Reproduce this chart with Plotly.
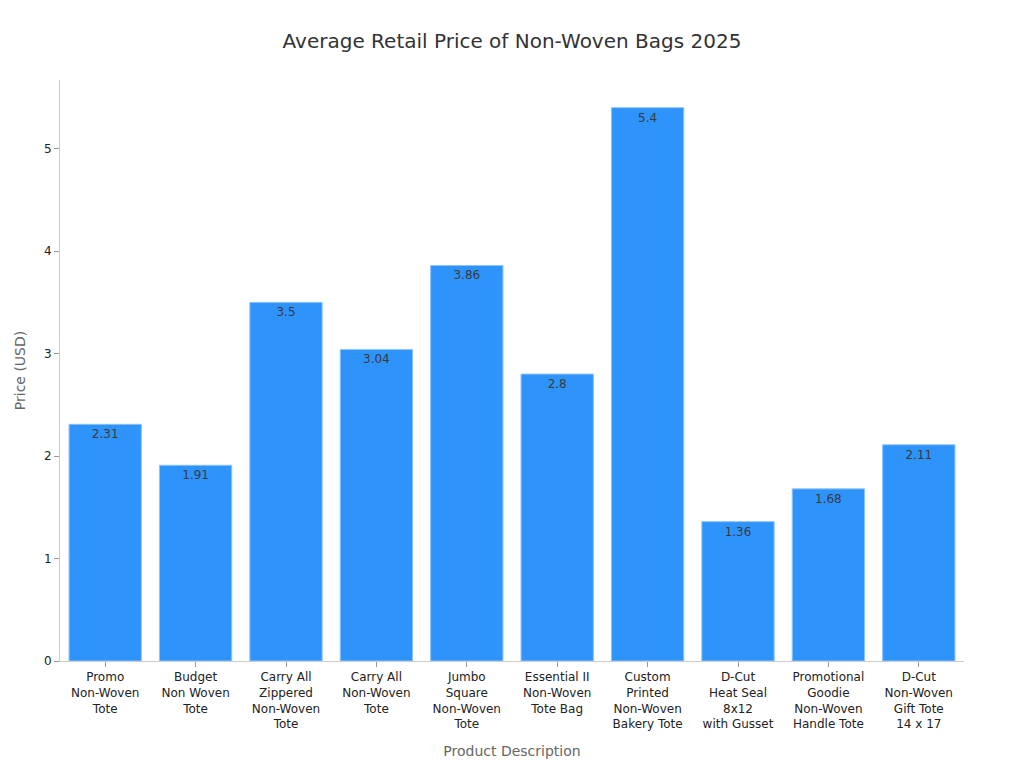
import plotly.graph_objects as go

categories = [
    "Promo<br>Non-Woven<br>Tote",
    "Budget<br>Non Woven<br>Tote",
    "Carry All<br>Zippered<br>Non-Woven<br>Tote",
    "Carry All<br>Non-Woven<br>Tote",
    "Jumbo<br>Square<br>Non-Woven<br>Tote",
    "Essential II<br>Non-Woven<br>Tote Bag",
    "Custom<br>Printed<br>Non-Woven<br>Bakery Tote",
    "D-Cut<br>Heat Seal<br>8x12<br>with Gusset",
    "Promotional<br>Goodie<br>Non-Woven<br>Handle Tote",
    "D-Cut<br>Non-Woven<br>Gift Tote<br>14 x 17",
]
prices = [2.31, 1.91, 3.5, 3.04, 3.86, 2.8, 5.4, 1.36, 1.68, 2.11]
labels = ["2.31", "1.91", "3.5", "3.04", "3.86", "2.8", "5.4", "1.36", "1.68", "2.11"]

fig = go.Figure(go.Bar(
    x=categories,
    y=prices,
    text=labels,
    textposition="inside",
    insidetextanchor="end",
    textfont=dict(color="#3a3a3a", size=12),
    marker=dict(color="#2E93FA", line=dict(color="#8EC4FA", width=1)),
))

fig.update_layout(
    width=1024, height=768,
    paper_bgcolor="white", plot_bgcolor="white",
    font=dict(family="DejaVu Sans", size=12, color="#222222"),
    title=dict(text="Average Retail Price of Non-Woven Bags 2025", x=0.4922, xanchor="center",
               y=0.957, yanchor="middle", font=dict(size=20, color="#333333")),
    margin=dict(l=52, r=68, t=72, b=115),
    bargap=0.2,
    showlegend=False,
    xaxis=dict(
        title=dict(text="Product Description", font=dict(size=14, color="#666666"), standoff=15),
        showline=True, linecolor="#CCCCCC", ticks="outside", ticklen=5, tickcolor="#999999",
        tickfont=dict(size=12, color="#222222"),
    ),
    yaxis=dict(
        title=dict(text="Price (USD)", font=dict(size=14, color="#666666"), standoff=15),
        range=[0, 5.67], showline=True, linecolor="#CCCCCC", ticks="outside", ticklen=5,
        tickcolor="#999999", showgrid=False, zeroline=False, dtick=1,
        tickfont=dict(size=12, color="#222222"),
    ),
)

fig.write_html("out.html")
